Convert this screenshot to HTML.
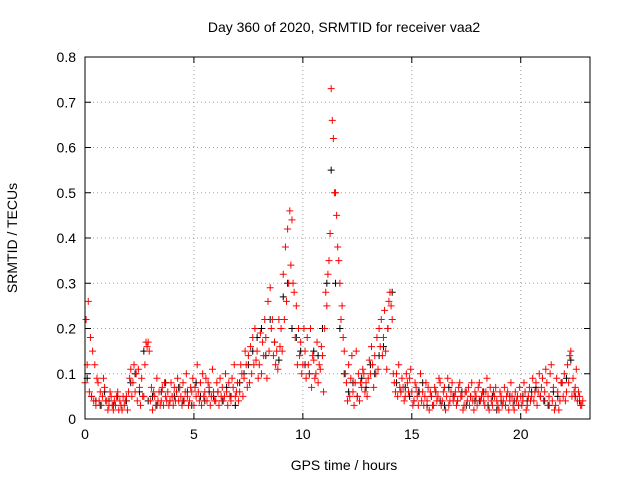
<!DOCTYPE html>
<html><head><meta charset="utf-8"><style>
body{margin:0;background:#fff;}
svg{display:block;font-family:"Liberation Sans",sans-serif;}
</style></head><body>
<svg id="c" width="640" height="480">
<rect x="0" y="0" width="640" height="480" fill="#fff"/>
<text x="344" y="32" font-size="14" text-anchor="middle">Day 360 of 2020, SRMTID for receiver vaa2</text>
<text x="344" y="470" font-size="14" text-anchor="middle">GPS time / hours</text>
<text x="17" y="238" font-size="14" text-anchor="middle" transform="rotate(-90 17 238)">SRMTID / TECUs</text>
<g id="grid"></g><g id="ticks"></g><g id="black"></g><g id="red"></g>
<rect x="85" y="57" width="505" height="362" fill="none" stroke="#000" stroke-width="1"/>
</svg>
<script>
const xTicks=[0,5,10,15,20];
const yTicks=[0,0.1,0.2,0.3,0.4,0.5,0.6,0.7,0.8];
const yLabels=["0","0.1","0.2","0.3","0.4","0.5","0.6","0.7","0.8"];
const redStep=0.1;
const redVals=[
8,22,12,26,6,18,5,15,4,12,3,9,8,4,6,3,5,9,7,4,
4,2,3,6,5,3,2,4,3,5,6,2,4,3,2,5,3,4,5,2,
6,9,11,5,8,12,6,10,4,11,7,3,9,5,5,12,17,16,17,15,
4,7,2,6,5,3,9,4,6,3,4,7,3,8,5,4,6,3,4,8,
5,3,7,4,6,9,4,7,5,3,8,4,6,10,5,3,4,7,6,9,
3,7,5,12,6,4,8,3,10,5,6,9,4,8,7,3,5,11,6,4,
4,8,6,3,9,5,7,4,5,10,6,3,8,5,4,9,7,12,5,6,
8,4,6,12,10,5,9,15,12,7,14,8,16,10,18,12,20,13,15,9,
12,19,10,17,14,22,18,9,26,15,29,20,22,14,17,12,15,11,22,16,
20,15,32,22,38,26,42,30,46,34,44,30,28,18,25,12,20,14,17,10,
12,20,15,9,18,12,10,20,7,14,13,9,10,17,8,12,11,16,14,6,
20,28,25,32,35,41,73,66,62,50,50,45,38,35,30,22,25,18,15,10,
8,4,12,5,9,14,6,3,8,15,5,10,4,8,7,11,10,6,8,5,
9,13,10,16,12,7,14,10,18,11,20,16,22,14,18,24,15,11,20,26,
28,25,22,10,8,6,10,5,12,7,6,9,7,4,5,10,8,6,9,11,
6,3,4,8,7,5,3,6,10,4,6,3,5,8,4,7,2,6,5,3,
3,7,6,4,5,9,8,3,4,6,7,2,5,9,3,4,6,8,4,5,
6,3,4,7,8,5,5,2,3,6,6,4,7,3,5,8,4,2,6,5,
3,7,8,4,5,6,4,3,6,9,5,2,7,4,3,6,5,7,4,3,
2,6,5,3,4,7,3,5,6,2,4,8,5,3,2,6,4,5,3,7,
5,3,4,8,6,2,3,5,7,4,5,9,4,6,8,3,6,10,5,7,
9,4,6,11,8,3,5,10,12,4,7,2,3,9,6,2,4,8,8,5,
10,4,6,12,8,14,15,5,9,6,7,11,4,6,5,3,3,4];
const blackStep=0.2;
const blackVals=[9,5,4,3,6,4,3,5,2,4,8,10,6,15,4,5,3,6,8,4,5,7,4,6,3,8,5,4,6,5,
6,4,7,5,3,8,10,12,15,18,20,14,22,17,13,27,30,20,18,15,12,10,15,14,20,30,55,30,20,10,
6,8,5,9,7,12,10,14,16,20,28,8,6,7,5,4,6,8,3,5,6,4,3,7,5,4,6,3,5,4,
4,6,3,5,2,4,3,5,4,3,5,4,6,7,5,4,3,6,5,8,9,13,5,4];
const NS='http://www.w3.org/2000/svg';
const X0=85,X1=590,Y0=419,Y1=57;
function sx(t){return X0+t*(X1-X0)/23.18;}
function sy(v){return Y0-v*(Y0-Y1)/0.8;}
function mk(tag,attrs,parent){const e=document.createElementNS(NS,tag);for(const k in attrs)e.setAttribute(k,attrs[k]);parent.appendChild(e);return e;}
const grid=document.getElementById('grid'),ticks=document.getElementById('ticks');
xTicks.forEach(t=>{const x=sx(t);
 if(t>0){const g=mk('line',{x1:x,x2:x,y1:Y0,y2:Y1,stroke:'#a0a0a0','stroke-dasharray':'1,3'},grid);
 
 }
 mk('line',{x1:x,x2:x,y1:Y0,y2:Y0-6,stroke:'#000'},ticks);
 mk('line',{x1:x,x2:x,y1:Y1,y2:Y1+6,stroke:'#000'},ticks);
 const l=mk('text',{x:x,y:Y0+20,'font-size':14,'text-anchor':'middle'},ticks);l.textContent=t;
 
 });
yTicks.forEach((v,i)=>{const y=sy(v);
 if(i>0&&i<yTicks.length-1){const g=mk('line',{x1:X0,x2:X1,y1:y,y2:y,stroke:'#a0a0a0','stroke-dasharray':'1,3'},grid);
 
 }
 mk('line',{x1:X0,x2:X0+6,y1:y,y2:y,stroke:'#000'},ticks);
 mk('line',{x1:X1,x2:X1-6,y1:y,y2:y,stroke:'#000'},ticks);
 const l=mk('text',{x:X0-9,y:y+5,'font-size':14,'text-anchor':'end'},ticks);l.textContent=yLabels[i];
 
 });
function plus(g,t,v,col){const x=sx(t),y=sy(v);
 const p=mk('path',{d:`M${x-3.5},${y}h7M${x},${y-3.5}v7`,stroke:col,'stroke-width':1,fill:'none'},g);
 
 }
const bg=document.getElementById('black');
blackVals.forEach((v,i)=>plus(bg,i*blackStep+0.1,v/100,'#000'));
const rg=document.getElementById('red');
redVals.forEach((v,i)=>plus(rg,Math.floor(i/2)*redStep+(i%2)*0.05,v/100,'#f00'));
</script>
</body></html>
